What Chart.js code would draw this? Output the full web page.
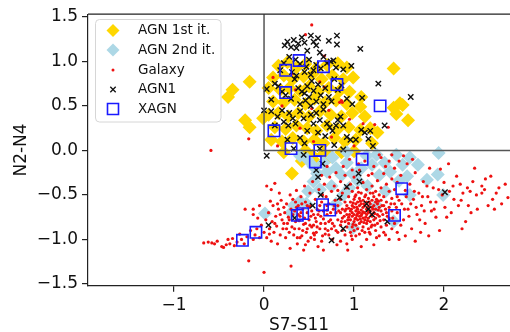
<!DOCTYPE html>
<html>
<head>
<meta charset="utf-8">
<script src="https://cdn.jsdelivr.net/npm/chart.js@4.4.1/dist/chart.umd.min.js"></script>
<style>
  html, body { margin: 0; padding: 0; background: #fff; overflow: hidden; }
</style>
</head>
<body>
<canvas id="chart" width="510" height="332"></canvas>
<script>
// ---------- Axis ticks ----------
const xTicks = [-1, 0, 1, 2];
const xTickLabels = ['\u22121', '0', '1', '2'];
const yTicks = [-1.5, -1, -0.5, 0, 0.5, 1, 1.5];
const yTickLabels = ['\u22121.5', '\u22121.0', '\u22120.5', '0.0', '0.5', '1.0', '1.5'];

// AGN selection box corner (x >= 0, y >= 0)
const boxCorner = [0, 0];

// ---------- Data (S7-S11, N2-N4) ----------
const agn1st = [
  [-0.40,0.60],[-0.35,0.68],[-0.16,0.77],[-0.21,0.34],[-0.16,0.26],[-0.01,0.36],
  [0.16,0.95],[0.26,0.99],[0.36,0.93],[0.46,0.97],[0.58,0.92],[0.70,0.96],[0.82,0.98],[0.92,0.93],
  [0.10,0.82],[0.22,0.84],[0.32,0.80],[0.44,0.83],[0.54,0.86],[0.64,0.80],[0.76,0.84],[0.88,0.80],[0.99,0.82],
  [0.05,0.70],[0.18,0.68],[0.28,0.70],[0.40,0.67],[0.50,0.72],[0.60,0.66],[0.72,0.70],[0.84,0.67],[0.95,0.66],
  [0.10,0.55],[0.22,0.54],[0.34,0.57],[0.46,0.52],[0.56,0.58],[0.68,0.54],[0.80,0.56],[0.92,0.52],[1.08,0.60],[1.07,0.49],
  [0.05,0.40],[0.16,0.42],[0.27,0.38],[0.38,0.42],[0.50,0.38],[0.62,0.44],[0.74,0.40],[0.86,0.38],[0.98,0.42],[1.12,0.38],
  [0.12,0.26],[0.24,0.24],[0.36,0.28],[0.48,0.25],[0.58,0.22],[0.70,0.28],[0.82,0.24],[0.94,0.26],[1.07,0.23],[1.18,0.25],
  [0.08,0.12],[0.20,0.10],[0.32,0.14],[0.44,0.10],[0.56,0.12],[0.66,0.08],[0.78,0.14],[0.90,0.10],[1.02,0.12],[1.20,0.08],
  [0.22,-0.02],[0.46,0.00],[0.54,-0.06],[0.66,-0.04],[0.73,-0.07],[0.86,-0.02],[1.00,-0.01],
  [1.44,0.92],[1.51,0.53],[1.47,0.41],[1.54,0.51],[1.60,0.34],[1.44,0.48],[1.26,0.20],
  [0.31,-0.26],[0.42,-0.12],[0.58,-0.14]
];

const agn2nd = [
  [0.40,-0.06],[0.48,-0.10],[0.55,-0.18],[0.59,-0.26],[0.66,-0.14],[0.70,-0.24],[0.76,-0.08],[0.80,-0.20],
  [0.86,-0.28],[0.92,-0.02],[0.92,-0.14],[0.98,-0.26],[1.04,-0.34],[1.08,-0.20],[1.14,-0.06],[1.20,-0.16],
  [1.25,-0.05],[1.28,-0.28],[1.34,-0.14],[1.40,-0.24],[1.47,-0.05],[1.50,-0.34],[1.54,-0.16],[1.59,-0.29],
  [1.62,-0.08],[1.71,-0.16],[1.81,-0.33],[1.93,-0.27],[1.94,-0.03],[1.99,-0.50],[0.55,-0.35],[0.49,-0.46],
  [0.40,-0.57],[0.33,-0.62],[0.47,-0.60],[0.62,-0.44],[0.01,-0.71],[0.75,-0.40],[0.95,-0.42],[1.15,-0.40],
  [1.35,-0.46],[1.44,-0.80],[0.99,-0.87],[1.62,-0.50],[1.25,-0.62],[0.88,-0.50],[0.30,-0.70],[0.80,-0.60]
];

const galaxy = [
  // upper region strays
  [0.53,1.41],[0.46,1.30],[0.67,1.06],[0.62,0.77],[0.67,0.71],[0.31,0.86],[0.84,0.54],[0.87,0.54],[0.53,0.47],
  [-0.17,0.13],[-0.59,0.00],[1.23,0.29],[1.38,0.26],[0.86,0.56],[1.10,0.30],[0.20,0.50],[0.40,0.25],[0.75,0.15],
  [0.95,0.35],[0.15,0.05],[0.55,0.10],[1.00,0.05],[0.72,0.45],[0.35,0.68],[0.10,0.82],
  [0.95,-0.10],[1.12,-0.12],[1.30,-0.08],[1.42,-0.05],[1.55,-0.06],[1.65,-0.10],[1.05,-0.15],[0.88,-0.18],
  [1.35,-0.18],[1.20,-0.26],[0.98,-0.22],[1.50,-0.12],
  // tail and left lobe
  [-0.67,-1.04],[-0.62,-1.03],[-0.58,-1.04],[-0.55,-1.05],[-0.52,-1.02],[-0.47,-1.08],[-0.45,-1.09],[-0.42,-1.06],
  [-0.38,-1.05],[-0.35,-0.99],[-0.33,-1.07],[-0.30,-1.03],[-0.27,-0.94],[-0.25,-1.00],[-0.22,-1.05],[-0.19,-0.97],
  [-0.17,-1.24],[-0.15,-0.90],[-0.12,-1.00],[-0.10,-0.95],[-0.08,-0.88],[-0.05,-0.98],[-0.03,-0.84],[0.00,-1.37],
  [0.00,-0.92],[0.02,-0.78],[0.03,-0.98],[0.05,-0.70],[0.06,-0.88],[0.08,-1.02],[0.09,-0.80],[0.10,-0.62],
  [0.11,-0.92],[0.13,-0.74],[0.14,-0.85],[0.15,-1.05],[0.16,-0.66],[0.18,-0.95],[0.19,-0.56],[0.20,-0.78],
  [0.21,-0.88],[0.23,-0.70],[0.24,-0.98],[0.25,-0.60],[0.26,-0.82],[0.27,-0.75],[0.28,-0.92],[0.29,-0.50],
  [0.30,-1.30],[0.30,-0.66],[0.31,-0.86],[-0.05,-0.62],[0.07,-0.57],[0.17,-0.48],[-0.12,-0.72],[0.29,-1.10],
  [0.03,-0.40],[0.08,-0.44],[0.12,-0.37],[-0.21,-0.66],[-0.12,-0.66],[-0.07,-0.76],[-0.40,-1.00],
  [0.15,-0.60],[0.18,-0.72],[0.22,-0.64],[0.25,-0.88],[0.28,-0.78],[0.22,-0.82],[0.12,-0.82],[0.06,-0.94],
  // middle lobe
  [0.32,-0.55],[0.33,-0.95],[0.34,-0.68],[0.35,-0.80],[0.36,-0.45],[0.37,-1.05],[0.38,-0.62],[0.39,-0.88],
  [0.40,-0.74],[0.41,-0.52],[0.42,-0.96],[0.43,-0.66],[0.44,-0.83],[0.45,-0.40],[0.46,-0.58],[0.47,-0.92],
  [0.48,-0.70],[0.49,-1.02],[0.50,-0.78],[0.51,-0.48],[0.52,-0.62],[0.53,-0.86],[0.54,-0.35],[0.55,-0.72],
  [0.56,-0.95],[0.57,-0.55],[0.58,-0.80],[0.59,-0.66],[0.60,-1.08],[0.61,-0.44],[0.62,-0.88],[0.63,-0.74],
  [0.64,-0.58],[0.65,-0.96],[0.66,-0.68],[0.67,-0.38],[0.68,-0.82],[0.69,-0.52],[0.70,-0.72],[0.71,-0.90],
  [0.72,-0.60],[0.73,-0.30],[0.74,-0.78],[0.75,-0.46],[0.76,-1.00],[0.77,-0.66],[0.78,-0.85],[0.79,-0.56],
  [0.80,-0.70],[0.80,-0.25],[0.35,-0.58],[0.40,-0.98],[0.45,-0.76],[0.50,-0.64],[0.55,-0.84],[0.60,-0.72],
  [0.65,-0.50],[0.70,-0.62],[0.75,-0.88],[0.78,-0.40],[0.38,-0.72],[0.48,-0.88],[0.58,-0.92],[0.68,-0.94],
  [0.62,-0.62],[0.52,-0.74],[0.42,-0.60],[0.72,-0.80],[0.46,-1.06],[0.56,-1.00],[0.66,-1.12],[0.44,-1.12],
  [0.70,-0.18],[0.64,-0.28],
  [0.32,-0.72],[0.34,-0.88],[0.36,-0.64],[0.39,-0.79],[0.41,-0.70],[0.43,-0.90],[0.46,-0.82],[0.48,-0.62],
  [0.51,-0.84],[0.53,-0.68],[0.55,-0.93],[0.57,-0.76],[0.59,-0.86],[0.61,-0.68],[0.63,-0.82],[0.66,-0.77],
  [0.68,-0.88],[0.70,-0.67],[0.72,-0.95],[0.74,-0.70],[0.76,-0.82],[0.78,-0.62],[0.80,-0.90],[0.37,-0.98],
  [0.52,-0.98],[0.64,-1.02],[0.81,-1.06],[0.93,-1.12],
  // dense core
  [0.82,-0.45],[0.82,-0.62],[0.82,-0.78],[0.82,-0.92],[0.83,-0.68],[0.86,-0.80],
  [0.85,-0.35],[0.85,-0.55],[0.85,-0.70],[0.85,-0.84],[0.85,-1.02],
  [0.87,-0.48],[0.87,-0.66],[0.87,-0.76],[0.87,-0.90],
  [0.90,-0.28],[0.90,-0.58],[0.90,-0.68],[0.90,-0.80],[0.90,-0.95],
  [0.92,-0.42],[0.92,-0.62],[0.92,-0.72],[0.92,-0.86],[0.92,-1.05],
  [0.94,-0.52],[0.94,-0.65],[0.94,-0.75],[0.94,-0.82],
  [0.96,-0.38],[0.96,-0.58],[0.96,-0.68],[0.96,-0.78],[0.96,-0.92],
  [0.98,-0.46],[0.98,-0.62],[0.98,-0.70],[0.98,-0.74],[0.98,-0.86],[0.98,-1.00],
  [1.00,-0.30],[1.00,-0.55],[1.00,-0.64],[1.00,-0.72],[1.00,-0.80],[1.00,-0.90],
  [1.02,-0.50],[1.02,-0.60],[1.02,-0.68],[1.02,-0.76],[1.02,-0.84],[1.02,-0.96],
  [1.04,-0.42],[1.04,-0.58],[1.04,-0.66],[1.04,-0.71],[1.04,-0.78],[1.04,-0.88],
  [1.06,-0.22],[1.06,-0.54],[1.06,-0.62],[1.06,-0.70],[1.06,-0.74],[1.06,-0.82],[1.06,-0.94],
  [1.08,-0.48],[1.08,-0.60],[1.08,-0.67],[1.08,-0.73],[1.08,-0.80],[1.08,-1.08],
  [1.10,-0.36],[1.10,-0.56],[1.10,-0.64],[1.10,-0.69],[1.10,-0.76],[1.10,-0.86],
  [1.12,-0.52],[1.12,-0.62],[1.12,-0.70],[1.12,-0.78],[1.12,-0.92],
  [1.14,-0.44],[1.14,-0.58],[1.14,-0.66],[1.14,-0.72],[1.14,-0.82],[1.14,-1.00],
  [1.16,-0.28],[1.16,-0.54],[1.16,-0.63],[1.16,-0.70],[1.16,-0.76],[1.16,-0.88],
  [1.18,-0.48],[1.18,-0.60],[1.18,-0.68],[1.18,-0.80],[1.18,-0.94],
  [1.20,-0.40],[1.20,-0.56],[1.20,-0.64],[1.20,-0.74],[1.20,-0.84],
  [1.22,-0.18],[1.22,-0.52],[1.22,-0.62],[1.22,-0.70],[1.22,-0.78],[1.22,-1.06],
  [1.24,-0.46],[1.24,-0.58],[1.24,-0.66],[1.24,-0.76],[1.24,-0.90],
  [1.26,-0.34],[1.26,-0.60],[1.26,-0.72],[1.26,-0.82],
  [1.28,-0.05],[1.28,-0.50],[1.28,-0.64],[1.28,-0.74],[1.28,-0.96],
  [1.30,-0.42],[1.30,-0.56],[1.30,-0.68],[1.30,-0.86],
  [1.33,-0.26],[1.33,-0.52],[1.33,-0.62],[1.33,-0.78],[1.33,-0.92],
  [1.36,-0.38],[1.36,-0.58],[1.36,-0.70],[1.36,-0.84],
  [1.39,-0.12],[1.39,-0.46],[1.39,-0.64],[1.39,-0.76],[1.39,-1.00],
  [1.42,-0.32],[1.42,-0.54],[1.42,-0.68],[1.42,-0.88],
  [1.45,-0.20],[1.45,-0.44],[1.45,-0.60],[1.45,-0.82],
  [1.48,-0.36],[1.48,-0.52],[1.48,-0.70],[1.48,-0.92],
  [0.97,-0.66],[0.99,-0.59],[1.01,-0.77],[1.03,-0.64],[1.05,-0.69],[1.07,-0.57],[1.09,-0.71],[1.11,-0.60],
  [1.13,-0.75],[1.15,-0.68],[1.17,-0.58],[1.19,-0.73],[1.21,-0.66],[1.23,-0.71],[1.25,-0.55],[1.27,-0.67],
  [1.29,-0.79],[1.31,-0.62],[1.03,-0.73],[1.07,-0.77],[1.11,-0.81],[1.15,-0.79],[1.19,-0.86],[1.23,-0.84],
  [0.99,-0.83],[0.95,-0.72],[0.91,-0.66],[0.89,-0.74],[0.93,-0.78],[1.01,-0.52],[1.05,-0.47],[1.13,-0.50],
  [1.21,-0.48],[1.27,-0.57],[1.35,-0.66],[1.37,-0.74],[1.41,-0.60],[1.43,-0.76],[1.47,-0.64],[1.32,-0.72],
  [1.17,-0.92],[1.09,-0.90],[0.97,-0.96],[1.25,-0.98],[1.35,-0.95],
  // right wing
  [1.52,-0.28],[1.53,-0.60],[1.55,-0.78],[1.57,-0.45],[1.59,-0.15],[1.60,-0.66],[1.62,-0.38],[1.64,-0.88],
  [1.66,-0.55],[1.68,-0.25],[1.70,-0.72],[1.72,-0.48],[1.75,-0.62],[1.77,-0.35],[1.79,-0.82],[1.82,-0.52],
  [1.84,-0.20],[1.86,-0.68],[1.88,-0.42],[1.91,-0.58],[1.91,-0.75],[1.96,-0.21],[1.98,-0.50],[2.01,-0.64],
  [2.03,-0.75],[2.06,-0.46],[2.08,-0.70],[2.11,-0.55],[2.14,-0.29],[2.16,-0.62],[2.18,-0.38],[2.21,-0.48],
  [2.24,-0.80],[2.26,-0.42],[2.29,-0.46],[2.32,-0.35],[2.34,-0.20],[2.37,-0.66],[2.42,-0.40],[2.42,-0.48],
  [2.46,-0.32],[2.49,-0.62],[2.52,-0.29],[2.54,-0.55],[2.61,-0.42],[2.64,-0.60],[2.71,-0.53],[1.50,-1.00],
  [1.74,-0.92],[1.95,-0.90],[2.20,-0.88],[1.68,-1.02],[2.05,-0.15],[2.30,-0.70],[2.56,-0.66],
  [1.50,-0.56],[1.52,-0.84],[1.56,-0.66],[1.58,-0.52],[1.61,-0.74],[1.63,-0.60],[1.67,-0.46],[1.69,-0.64],
  [1.73,-0.78],[1.76,-0.52],[1.78,-0.68],[1.81,-0.40],[1.85,-0.58],[1.89,-0.66],[1.94,-0.44],[2.00,-0.36],
  [2.10,-0.40],[2.19,-0.56],[2.27,-0.62],[2.36,-0.50],[2.45,-0.44],[2.58,-0.48],[2.68,-0.38],[1.57,-0.96],
  [1.83,-0.96]
];

const agn1 = [
  [0.23,1.18],[0.26,1.22],[0.30,1.16],[0.33,1.24],[0.38,1.20],[0.42,1.27],[0.45,1.21],[0.52,1.29],
  [0.55,1.22],[0.58,1.18],[0.60,1.26],[0.72,1.23],[0.81,1.29],[0.81,1.19],[1.07,1.14],[0.48,1.12],
  [0.62,1.10],[0.36,1.15],
  [0.22,0.98],[0.28,1.05],[0.35,1.02],[0.40,0.97],[0.47,0.94],[0.50,1.02],[0.55,0.90],[0.58,0.96],
  [0.63,0.92],[0.70,0.98],[0.74,1.00],[0.77,1.01],[0.80,0.93],[0.88,0.91],[0.97,0.95],[0.45,0.88],
  [0.52,0.85],[0.66,1.05],[0.18,0.90],[0.31,0.88],
  [0.03,0.69],[0.12,0.75],[0.16,0.72],[0.20,0.66],[0.24,0.62],[0.30,0.58],[0.34,0.80],[0.38,0.70],
  [0.42,0.66],[0.45,0.64],[0.48,0.72],[0.50,0.60],[0.53,0.78],[0.55,0.67],[0.58,0.55],[0.60,0.74],
  [0.63,0.62],[0.66,0.52],[0.68,0.70],[0.72,0.60],[0.75,0.55],[0.78,0.80],[0.82,0.68],[0.86,0.73],
  [0.92,0.58],[0.98,0.52],[1.09,0.59],[1.27,0.75],[1.63,0.60],[0.08,0.57],[0.40,0.52],[0.46,0.56],
  [0.52,0.50],[0.36,0.84],
  [0.00,0.45],[0.08,0.44],[0.15,0.38],[0.20,0.45],[0.22,0.32],[0.27,0.28],[0.28,0.42],[0.32,0.36],
  [0.35,0.30],[0.40,0.44],[0.44,0.36],[0.48,0.22],[0.52,0.40],[0.55,0.30],[0.58,0.42],[0.60,0.20],
  [0.62,0.34],[0.66,0.46],[0.70,0.30],[0.73,0.26],[0.76,0.22],[0.80,0.28],[0.82,0.34],[0.85,0.38],
  [0.88,0.28],[0.92,0.15],[0.96,0.12],[1.02,0.12],[1.08,0.23],[1.12,0.20],[1.16,0.13],[1.18,0.22],
  [1.21,0.05],[1.34,0.28],[0.12,0.28],[0.26,0.12],[0.40,0.14],[0.45,0.08],[0.68,0.16],[0.78,0.06],
  [0.88,0.01],[0.33,0.02],[0.62,0.02],
  [0.03,-0.06],[0.58,-0.22],[0.65,-0.15],[0.60,-0.30],[0.44,-0.05],[1.05,-0.26],[1.06,-0.35],[0.92,-0.41],
  [0.63,-0.50],[0.84,-0.53],[1.16,-0.66],[1.20,-0.72],[1.14,-0.60],[0.05,-0.84],[0.88,-0.88],[0.75,-1.01],
  [2.01,-0.47],[1.37,-0.80],[0.34,-0.76],[0.54,-0.62]
];

const xagn = [
  [0.39,1.01],[0.66,0.94],[0.24,0.90],[0.81,0.74],[0.24,0.65],[1.29,0.50],[0.11,0.22],[0.30,0.02],
  [0.62,0.00],[0.57,-0.13],[1.09,-0.10],[1.53,-0.43],[0.65,-0.61],[0.73,-0.67],[0.43,-0.71],[0.37,-0.73],
  [1.45,-0.73],[-0.09,-0.92],[-0.24,-1.01]
];

const toPts = arr => arr.map(p => ({ x: p[0], y: p[1] }));

// ---------- Extra drawing: top spine + legend ----------
const legendItems = [
  { label: 'AGN 1st it.', kind: 'diamond', color: '#ffd700' },
  { label: 'AGN 2nd it.', kind: 'diamond', color: '#add8e6' },
  { label: 'Galaxy', kind: 'dot', color: '#ee1111' },
  { label: 'AGN1', kind: 'x', color: '#111' },
  { label: 'XAGN', kind: 'square', color: '#1a1aff' }
];

const framePlugin = {
  id: 'frame',
  afterDraw(chart) {
    const ctx = chart.ctx;
    const a = chart.chartArea;
    ctx.save();
    ctx.strokeStyle = '#222';
    ctx.lineWidth = 1.2;
    ctx.beginPath();
    ctx.moveTo(a.left, a.top);
    ctx.lineTo(a.right, a.top);
    ctx.stroke();

    // legend box
    const bx = 95.5, by = 19.5, bw = 125.5, bh = 102.5, r = 4;
    ctx.beginPath();
    ctx.moveTo(bx + r, by);
    ctx.arcTo(bx + bw, by, bx + bw, by + bh, r);
    ctx.arcTo(bx + bw, by + bh, bx, by + bh, r);
    ctx.arcTo(bx, by + bh, bx, by, r);
    ctx.arcTo(bx, by, bx + bw, by, r);
    ctx.closePath();
    ctx.fillStyle = 'rgba(255,255,255,0.85)';
    ctx.fill();
    ctx.strokeStyle = '#d6d6d6';
    ctx.lineWidth = 1;
    ctx.stroke();

    ctx.font = '13.5px "DejaVu Sans"';
    ctx.textBaseline = 'middle';
    ctx.textAlign = 'left';
    const ys = [30.5, 50, 70, 89.5, 109];
    legendItems.forEach((it, i) => {
      const sx = 113, sy = ys[i];
      ctx.beginPath();
      if (it.kind === 'diamond') {
        ctx.moveTo(sx - 6.5, sy); ctx.lineTo(sx, sy - 6.5);
        ctx.lineTo(sx + 6.5, sy); ctx.lineTo(sx, sy + 6.5);
        ctx.closePath();
        ctx.fillStyle = it.color; ctx.fill();
      } else if (it.kind === 'dot') {
        ctx.arc(sx, sy, 1.5, 0, Math.PI * 2);
        ctx.fillStyle = it.color; ctx.fill();
      } else if (it.kind === 'x') {
        ctx.moveTo(sx - 2.7, sy - 2.7); ctx.lineTo(sx + 2.7, sy + 2.7);
        ctx.moveTo(sx + 2.7, sy - 2.7); ctx.lineTo(sx - 2.7, sy + 2.7);
        ctx.strokeStyle = it.color; ctx.lineWidth = 1.3; ctx.stroke();
      } else {
        ctx.rect(sx - 5.5, sy - 5.5, 11, 11);
        ctx.strokeStyle = it.color; ctx.lineWidth = 1.6; ctx.stroke();
      }
      ctx.fillStyle = '#111';
      ctx.fillText(it.label, 138, sy);
    });
    ctx.restore();
  }
};

// ---------- Chart ----------
Chart.defaults.font.family = '"DejaVu Sans", sans-serif';
Chart.defaults.color = '#111';

const xMin = -1.956, xMax = 2.733, yMin = -1.52, yMax = 1.53;

const ctx = document.getElementById('chart').getContext('2d');
new Chart(ctx, {
  type: 'scatter',
  data: {
    datasets: [
      {
        label: 'AGN 1st it.',
        data: toPts(agn1st),
        pointStyle: 'rectRot',
        pointRadius: 7,
        backgroundColor: '#ffd700',
        borderWidth: 0,
        order: 5
      },
      {
        label: 'AGN 2nd it.',
        data: toPts(agn2nd),
        pointStyle: 'rectRot',
        pointRadius: 7,
        backgroundColor: '#add8e6',
        borderWidth: 0,
        order: 4
      },
      {
        label: 'Galaxy',
        data: toPts(galaxy),
        pointStyle: 'circle',
        pointRadius: 1.6,
        backgroundColor: '#ee1111',
        borderWidth: 0,
        order: 3
      },
      {
        label: 'AGN1',
        data: toPts(agn1),
        pointStyle: 'crossRot',
        pointRadius: 3.8,
        borderColor: '#111',
        borderWidth: 1.4,
        order: 2
      },
      {
        label: 'XAGN',
        data: toPts(xagn),
        pointStyle: 'rect',
        pointRadius: 8,
        backgroundColor: 'rgba(0,0,0,0)',
        borderColor: '#1a1aff',
        borderWidth: 1.6,
        order: 1
      },
      {
        type: 'line',
        label: 'box',
        data: [
          { x: boxCorner[0], y: yMax + 1 },
          { x: boxCorner[0], y: boxCorner[1] },
          { x: xMax + 1, y: boxCorner[1] }
        ],
        borderColor: '#555',
        borderWidth: 1.5,
        pointRadius: 0,
        fill: false,
        tension: 0,
        order: 0
      }
    ]
  },
  options: {
    responsive: false,
    animation: false,
    events: [],
    layout: { autoPadding: false, padding: { left: 0, right: 0, top: 12.7, bottom: 0 } },
    plugins: {
      legend: { display: false },
      tooltip: { enabled: false }
    },
    scales: {
      x: {
        type: 'linear',
        min: xMin,
        max: xMax,
        afterBuildTicks: s => { s.ticks = xTicks.map(v => ({ value: v })); },
        afterFit: s => { s.height = 46.3; },
        ticks: {
          callback: (v, i) => xTickLabels[i],
          font: { size: 17 },
          color: '#111',
          padding: 4,
          maxRotation: 0
        },
        grid: { drawOnChartArea: false, drawTicks: true, tickLength: 6, color: '#222', lineWidth: 1.2 },
        border: { display: true, color: '#222', width: 1.2 },
        title: {
          display: true,
          text: 'S7-S11',
          font: { size: 17, lineHeight: 1 },
          color: '#111',
          padding: { top: 0, bottom: -2 }
        }
      },
      y: {
        type: 'linear',
        min: yMin,
        max: yMax,
        afterBuildTicks: s => { s.ticks = yTicks.map(v => ({ value: v })); },
        afterFit: s => { s.width = 88; },
        ticks: {
          callback: (v, i) => yTickLabels[i],
          font: { size: 17 },
          color: '#111',
          padding: 4
        },
        grid: { drawOnChartArea: false, drawTicks: true, tickLength: 6, color: '#222', lineWidth: 1.2 },
        border: { display: true, color: '#222', width: 1.2 },
        title: {
          display: true,
          text: 'N2-N4',
          font: { size: 17, lineHeight: 1 },
          color: '#111',
          padding: { top: 13, bottom: 0 }
        }
      }
    }
  },
  plugins: [framePlugin]
});
</script>
</body>
</html>
